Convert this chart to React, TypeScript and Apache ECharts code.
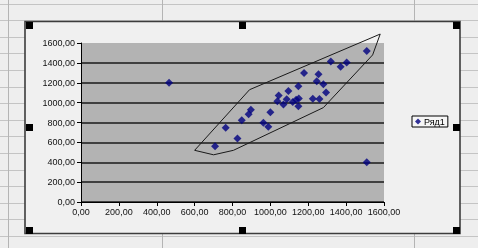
import React, { useEffect, useRef } from "react";
import * as echarts from "echarts";

const seriesName = "Ряд1";
const xValues = [465, 708, 764, 826, 849, 885, 897, 963, 989, 1000, 1037, 1044, 1069, 1086, 1095, 1118, 1136, 1150, 1148, 1148, 1178, 1224, 1245, 1254, 1259, 1280, 1294, 1319, 1371, 1403, 1509, 1509];
const yValues = [1200, 562, 748, 640, 823, 882, 928, 797, 757, 903, 1013, 1072, 980, 1034, 1118, 1007, 1030, 1042, 963, 1166, 1297, 1040, 1215, 1285, 1036, 1185, 1101, 1413, 1362, 1403, 1520, 400];
const hullX = [600, 890, 1580, 1540, 1280, 805, 700, 600];
const hullY = [520, 1130, 1690, 1480, 950, 520, 475, 520];
const axisMin = 0;
const axisMax = 1600;
const axisStep = 200;

const fmt = (v: number) => v.toFixed(2).replace(".", ",");

export default function App() {
  const ref = useRef<HTMLDivElement>(null);
  useEffect(() => {
    if (!ref.current) return;
    const chart = echarts.init(ref.current, null, { renderer: "svg" });
    const W = 478, H = 248;
    const bg: any[] = [];
    bg.push({ type: "rect", z: -10, shape: { x: 0, y: 0, width: W, height: H }, style: { fill: "#eeeeee" } });
    for (let k = 0; k < 16; k++) {
      const y = Math.round(3.5 + 16.6 * k) + 0.5;
      bg.push({ type: "line", z: -10, shape: { x1: 0, y1: y, x2: W, y2: y }, style: { stroke: "#c4c4c4", lineWidth: 1 } });
    }
    [8.5, 162.5, 414.5].forEach((x) => {
      bg.push({ type: "line", z: -10, shape: { x1: x, y1: 0, x2: x, y2: H }, style: { stroke: "#b4b4b4", lineWidth: 1 } });
    });
    bg.push({ type: "rect", z: -10, shape: { x: 25, y: 21.5, width: 435, height: 212 }, style: { fill: "#f0f0f0", stroke: "#3c3c3c", lineWidth: 1.6 } });
    const handles = [[26, 22], [239, 22], [453, 22], [26, 124], [453, 124], [26, 227], [239, 227], [453, 227]];
    handles.forEach(([x, y]) => {
      bg.push({ type: "rect", z: 50, shape: { x, y, width: 7, height: 7 }, style: { fill: "#000" } });
    });

    const splitColors: string[] = [];
    for (let v = axisMin; v <= axisMax; v += axisStep) splitColors.push(v === axisMax ? "rgba(0,0,0,0)" : "#1a1a1a");

    chart.setOption({
      animation: false,
      textStyle: { fontFamily: "Liberation Sans, Arial, sans-serif" },
      graphic: bg,
      grid: { left: 81, right: 94, top: 43, bottom: 46, show: true, backgroundColor: "#b3b3b3", borderWidth: 0 },
      xAxis: {
        type: "value", min: axisMin, max: axisMax, interval: axisStep,
        axisLine: { show: true, lineStyle: { color: "#000", width: 1 } },
        axisTick: { show: true, length: 4, lineStyle: { color: "#000" } },
        axisLabel: { formatter: fmt, fontSize: 9, color: "#111", margin: 5 },
        splitLine: { show: false },
      },
      yAxis: {
        type: "value", min: axisMin, max: axisMax, interval: axisStep,
        axisLine: { show: true, lineStyle: { color: "#000", width: 1 } },
        axisTick: { show: true, length: 4, lineStyle: { color: "#000" } },
        axisLabel: { formatter: fmt, fontSize: 9, color: "#111", margin: 6 },
        splitLine: { show: true, lineStyle: { color: splitColors, width: 1.5 } },
      },
      legend: {
        data: [{ name: seriesName, icon: "diamond" }],
        left: 412, top: 116, orient: "vertical",
        backgroundColor: "#f6f6f6", borderColor: "#000", borderWidth: 1,
        padding: [1, 3, 1, 3], itemWidth: 6, itemHeight: 6,
        textStyle: { fontSize: 9, color: "#000", padding: [0, 0, 0, -2] },
      },
      series: [
        {
          name: seriesName, type: "scatter", symbol: "diamond", symbolSize: 8,
          itemStyle: { color: "#000080" }, z: 5,
          data: xValues.map((x, i) => [x, yValues[i]]),
        },
        {
          name: "hull", type: "line", symbol: "none", clip: false, z: 4,
          lineStyle: { color: "#1a1a1a", width: 1 },
          data: hullX.map((x, i) => [x, hullY[i]]),
        },
      ],
    });
    return () => chart.dispose();
  }, []);
  return <div ref={ref} style={{ position: "fixed", left: 0, top: 0, width: 478, height: 248 }} />;
}
